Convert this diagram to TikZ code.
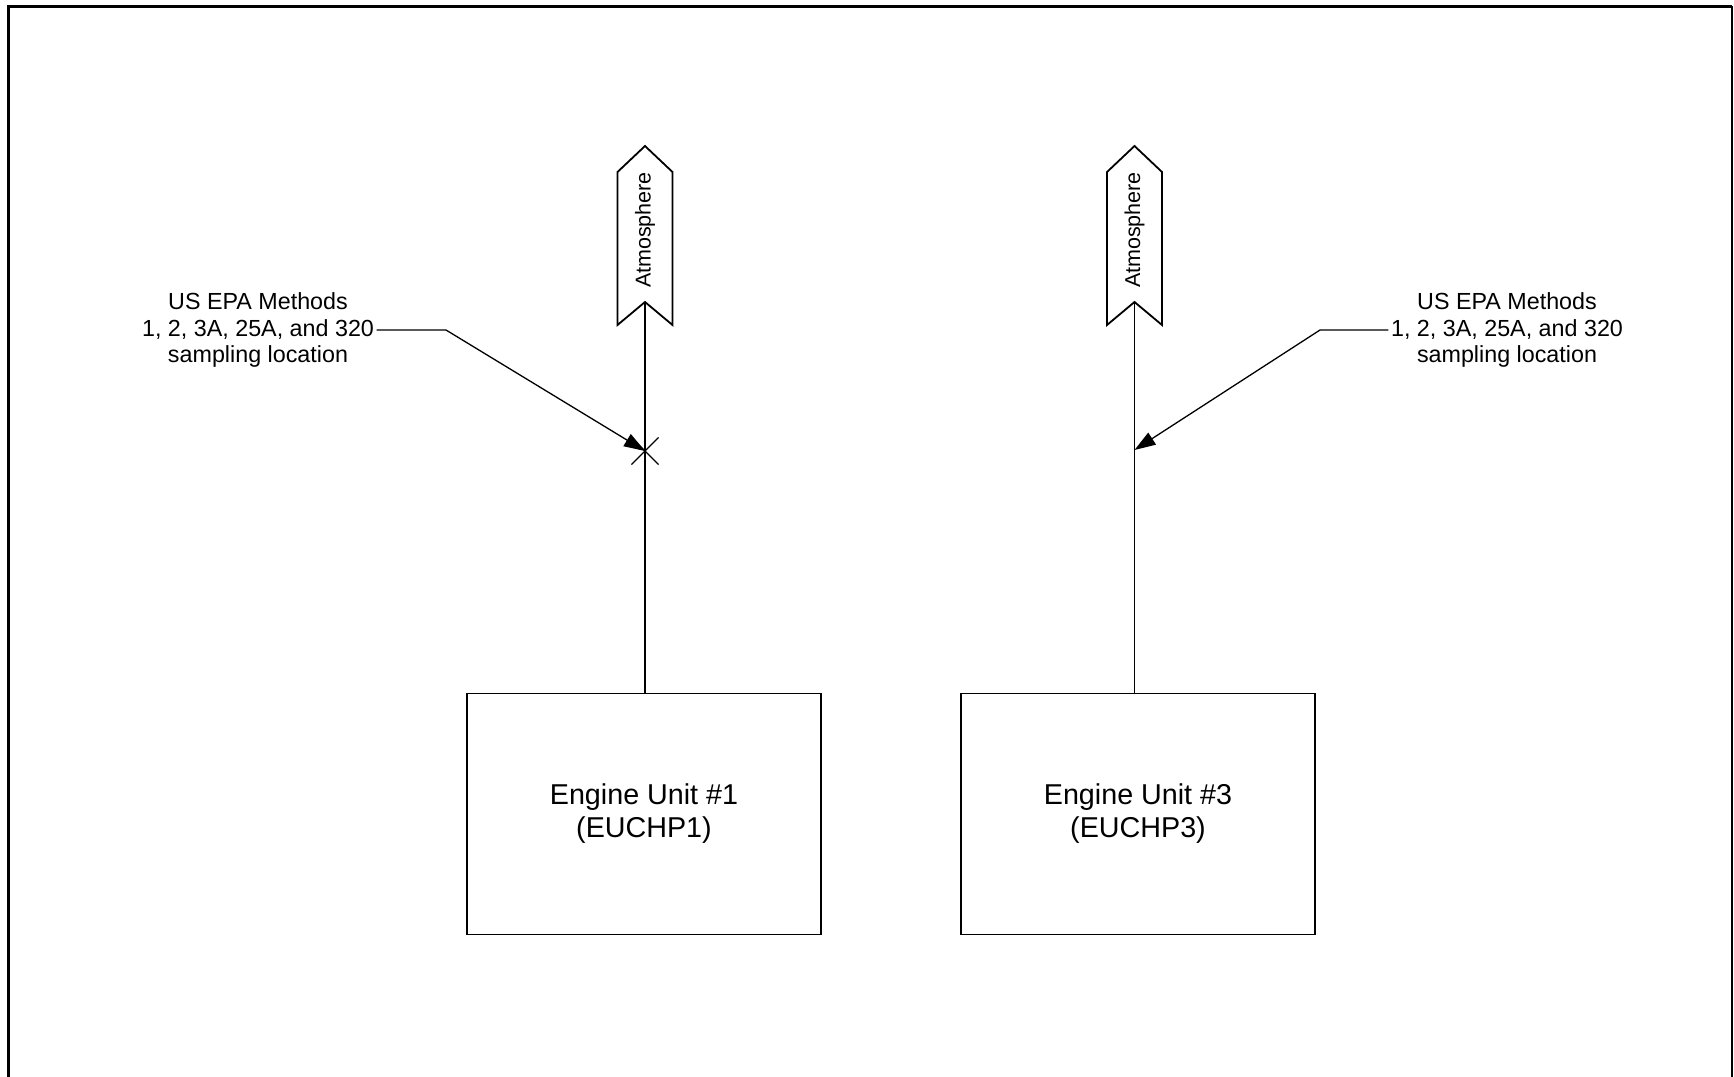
\documentclass[tikz,border=0pt]{standalone}
\usepackage{fontspec}
\setmainfont{Liberation Sans}
\usetikzlibrary{arrows.meta,shapes.misc}

\begin{document}
\begin{tikzpicture}[x=1pt, y=-1pt, line width=1.3pt, every node/.style={font=\fontsize{23.3}{26.5}\selectfont}]
    \useasboundingbox (0,0) rectangle (1734,1076);

    % Page frame
    \draw[line width=3pt] (8,1090) -- (8,6) -- (1732,6);
    \draw[line width=1.6pt] (1732,6) -- (1732,1090);

    % Atmosphere 1
    \draw[line width=1.8pt, line join=miter] (645,146) -- (672.5,172) -- (672.5,325) -- (645,302) -- (617.5,325) -- (617.5,172) -- cycle;
    \node[rotate=90, font=\fontsize{21.5}{24}\selectfont] (atm1) at (645,230) {Atmosphere};
    \coordinate (notch1) at (645,302);

    % Atmosphere 3
    \draw[line width=1.8pt, line join=miter] (1134.5,146) -- (1162,172) -- (1162,325) -- (1134.5,302) -- (1107,325) -- (1107,172) -- cycle;
    \node[rotate=90, font=\fontsize{21.5}{24}\selectfont] (atm3) at (1134.5,230) {Atmosphere};
    \coordinate (notch3) at (1134.5,302);

    % Engine Unit #1
    \node[draw, minimum width=354pt, minimum height=241pt, align=center, font=\fontsize{28.7}{33}\selectfont] (unit1) at (644,814) {Engine Unit \#1\\(EUCHP1)};

    % Engine Unit #3
    \node[draw, minimum width=354pt, minimum height=241pt, align=center, font=\fontsize{28.7}{33}\selectfont] (unit3) at (1138,814) {Engine Unit \#3\\(EUCHP3)};

    % Stacks
    \draw (notch1) -- (notch1 |- unit1.north);
    \draw (notch3) -- (notch3 |- unit3.north);

    % Sampling location 1
    \node[draw, cross out, minimum size=26pt, inner sep=0pt, line width=1.2pt] (smp1) at (645,451) {};
    \node[align=center, inner sep=2pt] (lbl1) at (258,330) {US EPA Methods\\1, 2, 3A, 25A, and 320\\sampling location};
    \coordinate (bend1) at (446,330);
    \draw[-{Triangle[length=21pt, width=14pt]}] (lbl1.east) -- (bend1) -- (smp1.center);

    % Sampling location 3
    \coordinate (smp3) at (1134.5,450);
    \node[align=center, inner sep=2pt] (lbl3) at (1507,330) {US EPA Methods\\1, 2, 3A, 25A, and 320\\sampling location};
    \coordinate (bend3) at (1320,330);
    \draw[-{Triangle[length=21pt, width=14pt]}] (lbl3.west) -- (bend3) -- (smp3);
\end{tikzpicture}
\end{document}
